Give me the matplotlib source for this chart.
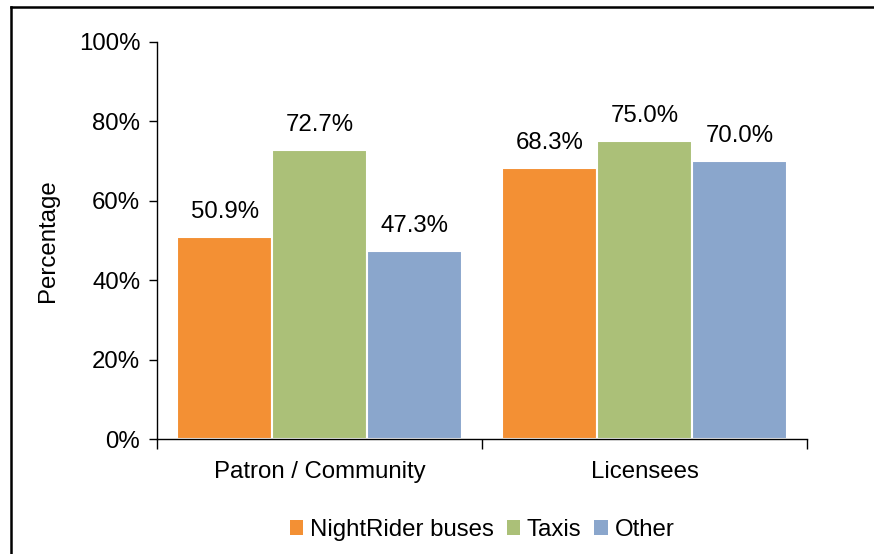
import matplotlib
matplotlib.use("Agg")
import matplotlib.pyplot as plt
from matplotlib.lines import Line2D
from matplotlib.patches import Patch
import numpy as np

plt.rcParams['font.family'] = ['Liberation Sans', 'DejaVu Sans']

categories = ["Patron / Community", "Licensees"]
series_names = ["NightRider buses", "Taxis", "Other"]
values = {
    "NightRider buses": [50.9, 68.3],
    "Taxis": [72.7, 75.0],
    "Other": [47.3, 70.0],
}
colors = {
    "NightRider buses": "#F39034",
    "Taxis": "#ABC078",
    "Other": "#8AA6CC",
}
yticks = [0, 20, 40, 60, 80, 100]

W, H = 874, 554
fig = plt.figure(figsize=(W / 100, H / 100), dpi=100)
ax_left, ax_right = 157 / W, 807 / W
ax = fig.add_axes([ax_left, 1 - 439 / H, ax_right - ax_left, (439 - 42) / H])

x = np.arange(len(categories))
bw = 0.292
fs = 17.3
for i, name in enumerate(series_names):
    pos = x + (i - 1) * bw
    bars = ax.bar(pos, values[name], width=bw, color=colors[name],
                  edgecolor="white", linewidth=1.5, zorder=2)
    for b, v in zip(bars, values[name]):
        ax.annotate(f"{v:.1f}%", (b.get_x() + b.get_width() / 2, v),
                    xytext=(0, 10), textcoords="offset points",
                    ha="center", va="bottom", fontsize=fs)

ax.set_xlim(-0.5, 1.5)
ax.set_ylim(0, 100)
ax.set_yticks(yticks)
ax.set_yticklabels([f"{t}%" for t in yticks], fontsize=fs)
ax.tick_params(axis="y", direction="out", length=6, width=1, pad=6)

ax.set_xticks(x)
ax.set_xticklabels(categories, fontsize=fs)
ax.tick_params(axis="x", which="major", length=0, pad=16)
ax.set_xticks([-0.5, 0.5, 1.5], minor=True)
ax.tick_params(axis="x", which="minor", direction="out", length=7, width=1)

for s in ["top", "right"]:
    ax.spines[s].set_visible(False)
ax.spines["left"].set_linewidth(1)
ax.spines["bottom"].set_linewidth(1)

ax.set_ylabel("Percentage", fontsize=fs, labelpad=14)

handles = [Patch(facecolor=colors[n], edgecolor="none") for n in series_names]
fig.legend(handles, series_names, loc="center",
           bbox_to_anchor=((ax_left + ax_right) / 2, 1 - 530 / H),
           ncol=3, frameon=False, fontsize=fs, handlelength=0.55, handleheight=0.55,
           handletextpad=0.28, columnspacing=0.55)

# outer frame lines
fig.add_artist(Line2D([11 / W, 1], [1 - 6.5 / H, 1 - 6.5 / H], color="black", linewidth=1.8))
fig.add_artist(Line2D([11 / W, 11 / W], [0, 1 - 6.5 / H], color="black", linewidth=1.8))

fig.savefig("out.png", dpi=100)
